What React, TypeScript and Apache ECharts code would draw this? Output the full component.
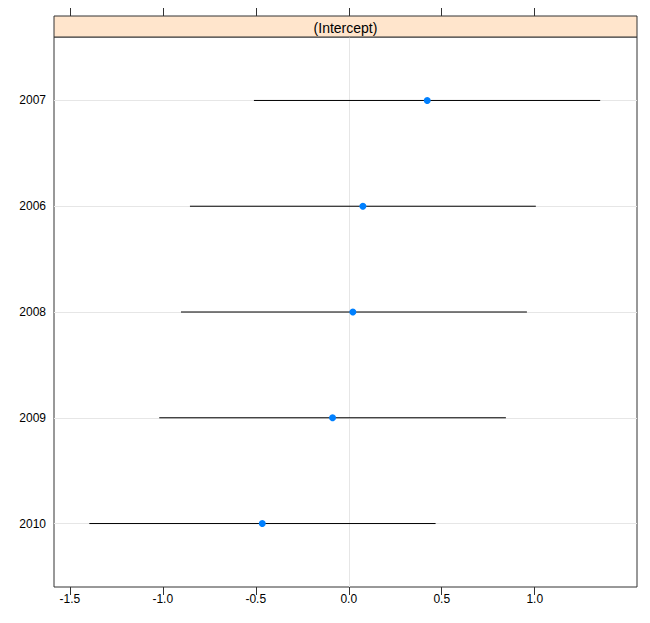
import React, { useEffect, useRef } from "react";
import * as echarts from "echarts";

const years = ["2007", "2006", "2008", "2009", "2010"]; // top to bottom
const estimates = [0.422, 0.076, 0.022, -0.087, -0.465];
const lower = [-0.51, -0.854, -0.902, -1.019, -1.395];
const upper = [1.352, 1.006, 0.958, 0.845, 0.467];
const xTicks = [-1.5, -1.0, -0.5, 0, 0.5, 1.0];
const stripTitle = "(Intercept)";

const FONT = "'Liberation Sans', 'DejaVu Sans', sans-serif";

export default function App() {
  const ref = useRef<HTMLDivElement>(null);
  useEffect(() => {
    if (!ref.current) return;
    const chart = echarts.init(ref.current, undefined, { renderer: "svg" });
    const n = years.length;
    const pos = years.map((_, i) => n - i);
    const yTicks = pos.slice();
    const gridLeft = 54, gridRight = 13, gridTop = 37, gridBottom = 36;
    const W = 650;
    chart.setOption({
      animation: false,
      backgroundColor: "#ffffff",
      grid: {
        left: gridLeft,
        right: gridRight,
        top: gridTop,
        bottom: gridBottom,
        show: true,
        borderColor: "#333",
        borderWidth: 1,
        backgroundColor: "transparent",
      },
      xAxis: [
        {
          type: "value",
          min: -1.585,
          max: 1.55,
          position: "bottom",
          axisLine: { show: false },
          splitLine: { show: false },
          axisTick: {
            show: true,
            length: 8,
            inside: false,
            customValues: xTicks,
            lineStyle: { color: "#333" },
          },
          axisLabel: {
            customValues: xTicks,
            formatter: (v: number) => v.toFixed(1),
            color: "#000",
            fontFamily: FONT,
            fontSize: 12,
            margin: 6,
          },
        },
        {
          type: "value",
          min: -1.585,
          max: 1.55,
          position: "top",
          offset: 21,
          axisLine: { show: false },
          splitLine: { show: false },
          axisTick: {
            show: true,
            length: 8,
            inside: false,
            customValues: xTicks,
            lineStyle: { color: "#333" },
          },
          axisLabel: { show: false },
        },
      ],
      yAxis: {
        type: "value",
        min: 0.4,
        max: 5.6,
        axisLine: { show: false },
        splitLine: { show: false },
        axisTick: { show: false },
        axisLabel: {
          customValues: yTicks,
          formatter: (v: number) => years[n - Math.round(v)] ?? "",
          color: "#000",
          fontFamily: FONT,
          fontSize: 12,
          margin: 8,
        },
      },
      graphic: [
        {
          type: "rect",
          shape: { x: gridLeft, y: 16, width: W - gridLeft - gridRight, height: gridTop - 16 },
          style: { fill: "#FFE5CC", stroke: "#333", lineWidth: 1 },
          z: 10,
        },
        {
          type: "text",
          x: gridLeft + (W - gridLeft - gridRight) / 2,
          y: 16 + (gridTop - 16) / 2 + 1,
          style: {
            text: stripTitle,
            fill: "#000",
            font: `14px ${FONT}`,
            align: "center",
            verticalAlign: "middle",
          },
          z: 11,
        },
      ],
      series: [
        {
          type: "custom",
          xAxisIndex: 0,
          yAxisIndex: 0,
          z: 3,
          data: years.map((_, i) => [lower[i], upper[i], pos[i]]),
          encode: { x: [0, 1], y: 2 },
          renderItem: (params: any, api: any) => {
            const a = api.coord([api.value(0), api.value(2)]);
            const b = api.coord([api.value(1), api.value(2)]);
            return {
              type: "line",
              shape: { x1: a[0], y1: a[1], x2: b[0], y2: b[1] },
              style: { stroke: "#000", lineWidth: 1 },
            };
          },
          markLine: {
            silent: true,
            symbol: "none",
            label: { show: false },
            lineStyle: { color: "#e6e6e6", type: "solid", width: 1 },
            z: 1,
            data: [
              ...pos.map((p) => ({ yAxis: p })),
              { xAxis: 0 },
            ],
          },
        },
        {
          type: "scatter",
          xAxisIndex: 0,
          yAxisIndex: 0,
          z: 5,
          symbol: "circle",
          symbolSize: 7,
          itemStyle: { color: "#0080ff", opacity: 1 },
          data: years.map((_, i) => [estimates[i], pos[i]]),
        },
      ],
    });
    return () => chart.dispose();
  }, []);
  return (
    <div
      ref={ref}
      style={{ position: "fixed", left: 0, top: 0, width: 650, height: 623 }}
    />
  );
}
